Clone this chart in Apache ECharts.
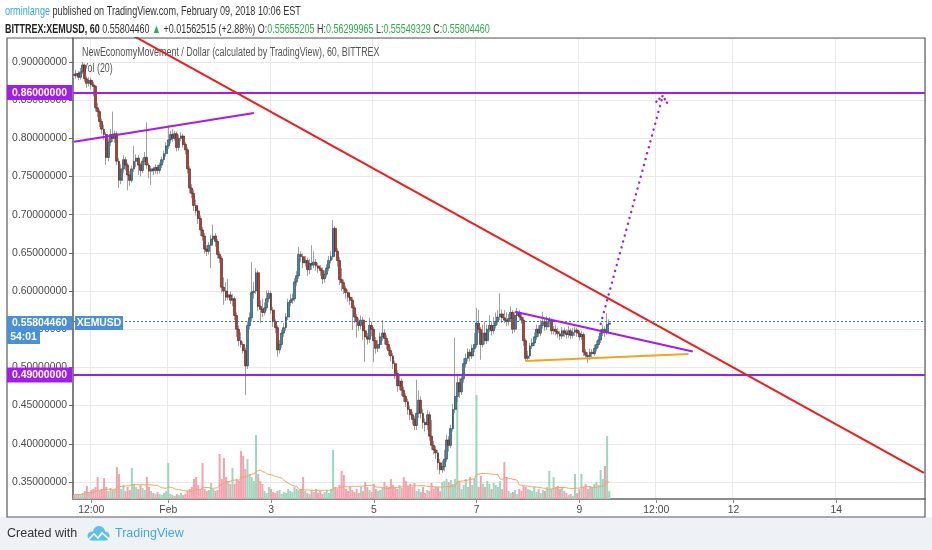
<!DOCTYPE html>
<html><head><meta charset="utf-8">
<script src="https://cdn.jsdelivr.net/npm/echarts@6/dist/echarts.min.js"></script>
<style>html,body{margin:0;padding:0;background:#fff}#c{width:932px;height:550px}</style>
</head><body><div id="c"></div>
<script>
// ---- axis definition ----
const firstHourUTC = [2018, 0, 30, 4];   // Jan 30 04:00 (first hourly slot)
const hourSlots = 398;                    // through Feb 15 17:00
const xTickTimes = ['2018-01-30 12:00','2018-02-01 00:00','2018-02-03 00:00','2018-02-05 00:00','2018-02-07 00:00','2018-02-09 00:00','2018-02-10 12:00','2018-02-12 00:00','2018-02-14 00:00'];
const xTickText  = ['12:00','Feb','3','5','7','9','12:00','12','14'];

// ---- hourly OHLC (XEM/USD) ----
const opens = [
0.884,0.882,0.885,0.880,0.887,0.896,0.878,0.872,0.876,0.870,
0.868,0.840,0.835,0.822,0.812,0.805,0.775,0.795,0.805,0.800,
0.806,0.770,0.745,0.760,0.772,0.765,0.752,0.745,0.760,0.770,
0.774,0.765,0.758,0.770,0.775,0.765,0.757,0.760,0.758,0.762,
0.758,0.765,0.772,0.780,0.790,0.798,0.805,0.800,0.806,0.788,
0.800,0.803,0.792,0.785,0.760,0.735,0.728,0.712,0.705,0.695,
0.680,0.672,0.655,0.652,0.660,0.668,0.672,0.665,0.648,0.643,
0.605,0.600,0.592,0.595,0.588,0.590,0.568,0.550,0.535,0.530,
0.522,0.502,0.555,0.565,0.598,0.600,0.624,0.580,0.576,0.572,
0.578,0.590,0.597,0.575,0.560,0.552,0.523,0.530,0.545,0.552,
0.566,0.585,0.588,0.590,0.612,0.620,0.648,0.645,0.637,0.640,
0.628,0.636,0.634,0.638,0.633,0.630,0.627,0.616,0.622,0.630,
0.640,0.645,0.682,0.652,0.640,0.615,0.611,0.603,0.598,0.592,
0.588,0.578,0.566,0.560,0.555,0.562,0.548,0.540,0.537,0.555,
0.550,0.535,0.525,0.530,0.540,0.545,0.538,0.530,0.522,0.515,
0.505,0.492,0.476,0.482,0.470,0.462,0.455,0.445,0.438,0.432,
0.424,0.440,0.457,0.440,0.428,0.425,0.438,0.410,0.398,0.392,
0.388,0.375,0.366,0.370,0.380,0.405,0.398,0.420,0.445,0.462,
0.480,0.468,0.485,0.505,0.512,0.520,0.515,0.525,0.530,0.558,
0.550,0.530,0.545,0.535,0.550,0.555,0.548,0.555,0.560,0.566,
0.570,0.565,0.562,0.560,0.564,0.572,0.550,0.568,0.572,0.566,
0.562,0.535,0.512,0.515,0.528,0.532,0.540,0.550,0.545,0.555,
0.560,0.553,0.560,0.562,0.548,0.550,0.547,0.544,0.541,0.548,
0.545,0.543,0.548,0.542,0.546,0.549,0.545,0.540,0.543,0.520,
0.516,0.514,0.520,0.518,0.525,0.530,0.536,0.545,0.550,0.546,
0.55655205];
const closes = [
0.882,0.885,0.880,0.887,0.896,0.878,0.872,0.876,0.870,0.868,
0.840,0.835,0.822,0.812,0.805,0.775,0.795,0.805,0.800,0.806,
0.770,0.745,0.760,0.772,0.765,0.752,0.745,0.760,0.770,0.774,
0.765,0.758,0.770,0.775,0.765,0.757,0.760,0.758,0.762,0.758,
0.765,0.772,0.780,0.790,0.798,0.805,0.800,0.806,0.788,0.800,
0.803,0.792,0.785,0.760,0.735,0.728,0.712,0.705,0.695,0.680,
0.672,0.655,0.652,0.660,0.668,0.672,0.665,0.648,0.643,0.605,
0.600,0.592,0.595,0.588,0.590,0.568,0.550,0.535,0.530,0.522,
0.502,0.555,0.565,0.598,0.600,0.624,0.580,0.576,0.572,0.578,
0.590,0.597,0.575,0.560,0.552,0.523,0.530,0.545,0.552,0.566,
0.585,0.588,0.590,0.612,0.620,0.648,0.645,0.637,0.640,0.628,
0.636,0.634,0.638,0.633,0.630,0.627,0.616,0.622,0.630,0.640,
0.645,0.682,0.652,0.640,0.615,0.611,0.603,0.598,0.592,0.588,
0.578,0.566,0.560,0.555,0.562,0.548,0.540,0.537,0.555,0.550,
0.535,0.525,0.530,0.540,0.545,0.538,0.530,0.522,0.515,0.505,
0.492,0.476,0.482,0.470,0.462,0.455,0.445,0.438,0.432,0.424,
0.440,0.457,0.440,0.428,0.425,0.438,0.410,0.398,0.392,0.388,
0.375,0.366,0.370,0.380,0.405,0.398,0.420,0.445,0.462,0.480,
0.468,0.485,0.505,0.512,0.520,0.515,0.525,0.530,0.558,0.550,
0.530,0.545,0.535,0.550,0.555,0.548,0.555,0.560,0.566,0.570,
0.565,0.562,0.560,0.564,0.572,0.550,0.568,0.572,0.566,0.562,
0.535,0.512,0.515,0.528,0.532,0.540,0.550,0.545,0.555,0.560,
0.553,0.560,0.562,0.548,0.550,0.547,0.544,0.541,0.548,0.545,
0.543,0.548,0.542,0.546,0.549,0.545,0.540,0.543,0.520,0.516,
0.514,0.520,0.518,0.525,0.530,0.536,0.545,0.550,0.546,0.55655205,
0.55804460];
const highs = [
0.889,0.890,0.888,0.892,0.900,0.898,0.881,0.880,0.879,0.874,
0.870,0.846,0.838,0.826,0.818,0.808,0.800,0.812,0.835,0.810,
0.809,0.774,0.766,0.778,0.776,0.768,0.757,0.764,0.790,0.779,
0.778,0.768,0.774,0.782,0.821,0.768,0.764,0.763,0.766,0.765,
0.768,0.776,0.784,0.795,0.817,0.810,0.812,0.810,0.809,0.805,
0.808,0.806,0.795,0.788,0.764,0.740,0.733,0.720,0.712,0.699,
0.684,0.676,0.660,0.664,0.674,0.687,0.676,0.668,0.652,0.646,
0.618,0.612,0.616,0.600,0.596,0.593,0.572,0.555,0.546,0.534,
0.526,0.560,0.572,0.638,0.612,0.630,0.627,0.588,0.590,0.585,
0.601,0.601,0.600,0.579,0.563,0.555,0.536,0.549,0.558,0.571,
0.590,0.596,0.597,0.617,0.626,0.658,0.652,0.649,0.646,0.644,
0.642,0.660,0.652,0.642,0.637,0.634,0.631,0.627,0.635,0.646,
0.652,0.693,0.685,0.656,0.644,0.630,0.615,0.607,0.602,0.597,
0.592,0.582,0.570,0.565,0.568,0.566,0.553,0.545,0.565,0.560,
0.553,0.540,0.536,0.546,0.562,0.550,0.542,0.535,0.526,0.519,
0.509,0.496,0.490,0.486,0.475,0.466,0.459,0.450,0.442,0.436,
0.484,0.470,0.462,0.446,0.433,0.444,0.442,0.431,0.404,0.397,
0.392,0.380,0.378,0.392,0.412,0.410,0.425,0.452,0.539,0.490,
0.486,0.492,0.512,0.518,0.525,0.524,0.530,0.545,0.578,0.575,
0.553,0.556,0.560,0.556,0.568,0.560,0.566,0.572,0.575,0.597,
0.576,0.575,0.572,0.570,0.580,0.575,0.573,0.578,0.575,0.570,
0.566,0.538,0.522,0.532,0.538,0.546,0.556,0.555,0.562,0.573,
0.565,0.567,0.566,0.564,0.554,0.556,0.552,0.548,0.553,0.552,
0.550,0.554,0.551,0.552,0.553,0.552,0.548,0.548,0.546,0.524,
0.520,0.525,0.524,0.530,0.535,0.541,0.550,0.556,0.554,0.571,
0.56299965];
const lows = [
0.879,0.878,0.876,0.877,0.884,0.874,0.866,0.868,0.864,0.855,
0.835,0.828,0.815,0.806,0.798,0.765,0.770,0.790,0.795,0.794,
0.765,0.735,0.740,0.755,0.758,0.732,0.738,0.742,0.756,0.762,
0.752,0.750,0.755,0.765,0.760,0.748,0.739,0.752,0.754,0.753,
0.754,0.761,0.768,0.776,0.786,0.793,0.795,0.797,0.783,0.784,
0.796,0.788,0.779,0.754,0.728,0.722,0.705,0.699,0.688,0.672,
0.666,0.649,0.646,0.648,0.630,0.662,0.658,0.643,0.637,0.598,
0.582,0.587,0.588,0.583,0.580,0.562,0.540,0.528,0.526,0.518,
0.464,0.498,0.550,0.560,0.590,0.596,0.574,0.558,0.566,0.568,
0.574,0.585,0.570,0.553,0.545,0.514,0.518,0.526,0.540,0.548,
0.562,0.580,0.583,0.586,0.607,0.616,0.638,0.630,0.632,0.620,
0.622,0.628,0.630,0.627,0.624,0.620,0.609,0.611,0.618,0.626,
0.636,0.641,0.646,0.632,0.608,0.600,0.596,0.590,0.586,0.582,
0.549,0.558,0.539,0.548,0.550,0.536,0.507,0.530,0.532,0.541,
0.507,0.518,0.520,0.526,0.535,0.530,0.524,0.516,0.508,0.498,
0.485,0.468,0.470,0.463,0.455,0.448,0.438,0.431,0.425,0.418,
0.418,0.434,0.433,0.420,0.416,0.418,0.404,0.392,0.386,0.380,
0.366,0.360,0.362,0.364,0.376,0.390,0.394,0.416,0.440,0.455,
0.460,0.464,0.480,0.500,0.508,0.508,0.511,0.520,0.526,0.545,
0.510,0.526,0.530,0.531,0.546,0.542,0.544,0.551,0.556,0.562,
0.558,0.558,0.554,0.555,0.560,0.544,0.546,0.563,0.561,0.557,
0.528,0.508,0.509,0.511,0.524,0.528,0.536,0.540,0.541,0.551,
0.548,0.549,0.553,0.543,0.543,0.542,0.539,0.536,0.537,0.540,
0.538,0.539,0.537,0.538,0.541,0.540,0.535,0.536,0.515,0.511,
0.506,0.510,0.513,0.515,0.521,0.526,0.532,0.541,0.540,0.543,
0.55549329];
// hourly volume (relative units)
const volumes = [
4,5,4,5,6,8,13,6,9,10,
12,22,9,10,21,12,8,11,9,10,
32,25,10,14,8,12,9,31,15,12,
10,14,11,9,22,12,8,6,5,7,
5,4,6,8,36,5,4,3,5,4,
6,4,5,8,10,12,20,22,14,10,
36,10,8,9,16,10,8,9,45,20,
41,22,18,15,31,15,20,18,48,43,
30,40,25,22,18,64,25,18,15,8,
6,12,10,7,6,8,9,5,7,6,
10,8,7,12,10,9,10,22,8,6,
5,9,7,10,6,8,5,7,9,6,
10,49,12,10,14,28,24,10,8,12,
9,7,10,6,12,8,17,12,9,7,
15,10,8,9,11,17,13,12,20,14,
12,10,14,11,22,18,13,15,12,16,
8,10,7,12,6,9,8,16,10,12,
12,8,17,18,20,17,19,15,20,103,
18,10,14,20,12,22,14,20,104,12,
23,15,12,18,15,10,16,14,12,18,
10,37,22,8,6,7,9,5,10,8,
13,12,10,9,8,12,7,10,6,9,
8,12,28,10,22,12,13,10,12,8,
6,4,5,3,25,6,10,25,12,15,
10,13,12,15,17,14,29,20,33,63,
8];
const volPeriod = 20;

// ---- drawings ----
const redTrend      = [['2018-01-30 04:00',0.9772],['2018-02-15 17:00',0.3618]];
const upperWedge    = [['2018-01-30 04:00',0.7955],['2018-02-02 16:00',0.8333]];
const wedgeTop      = [['2018-02-07 18:00',0.5730],['2018-02-11 05:00',0.5208]];
const wedgeBottom   = [['2018-02-07 23:00',0.5084],['2018-02-11 03:00',0.5176]];
const projection    = [['2018-02-09 10:00',0.557],['2018-02-10 15:00',0.8555]];
const projectionTip = [['2018-02-10 12:00',0.848],['2018-02-10 15:00',0.8555],['2018-02-10 17:00',0.8467]];
const levels = [0.86, 0.49];
const lastPrice = 0.55804460;
const countdown = '54:01';
const yMin = 0.3277, yMax = 0.9314;

// ---- build ----
const pad = n => String(n).padStart(2,'0');
const categories = [];
const t0 = Date.UTC(...firstHourUTC);
for (let k = 0; k < hourSlots; k++) {
  const d = new Date(t0 + k*3600000);
  categories.push(d.getUTCFullYear()+'-'+pad(d.getUTCMonth()+1)+'-'+pad(d.getUTCDate())+' '+pad(d.getUTCHours())+':00');
}
const tickMap = new Map(xTickTimes.map((t,j)=>[categories.indexOf(t), xTickText[j]]));
const isTick = idx => tickMap.has(idx);

const wickData = opens.map((o,i)=>[o, closes[i], lows[i], highs[i]]);
const bodyData = opens.map((o,i)=>[o, closes[i], Math.min(o,closes[i]), Math.max(o,closes[i])]);
const volMA = volumes.map((v,i)=>{ const s = volumes.slice(Math.max(0,i-volPeriod+1), i+1); return s.reduce((a,b)=>a+b,0)/s.length; });

const PURPLE = '#a21cf0', BLUE = '#4a8fdc';
const axisFont = 'Liberation Sans, Arial, sans-serif';

const chart = echarts.init(document.getElementById('c'));
const option = {
  animation: false,
  backgroundColor: '#ffffff',
  grid: { left: 73, right: 7, top: 38, bottom: 51, outerBoundsMode: 'none', containLabel: false },
  xAxis: [{
    type: 'category', data: categories, boundaryGap: true,
    axisLine: { show: true, lineStyle: { color: '#8c8c8c', width: 2 } },
    axisTick: { show: true, alignWithLabel: true, interval: isTick, length: 4, lineStyle: { color: '#8c8c8c' } },
    axisLabel: { interval: isTick, formatter: (v, idx) => tickMap.get(idx) || '', color: '#4a4a4a', fontSize: 10.4, fontFamily: axisFont, margin: 6 },
    splitLine: { show: true, interval: isTick, lineStyle: { color: '#e9e9eb', width: 1 } }
  }],
  yAxis: [{
    type: 'value', position: 'left', min: yMin, max: yMax, splitNumber: 12, scale: true,
    axisLine: { show: true, lineStyle: { color: '#555', width: 1.5 } },
    axisTick: { show: true, length: 4, lineStyle: { color: '#666' } },
    axisLabel: { formatter: v => v.toFixed(8), color: '#4a4a4a', fontSize: 10.4, fontFamily: axisFont, margin: 6, showMinLabel: false, showMaxLabel: false },
    splitLine: { show: true, lineStyle: { color: '#e9e9eb', width: 1.2 } }
  }, {
    type: 'value', min: 0, max: 461, show: false, splitLine: { show: false }
  }],
  series: [
    { name: 'Volume', type: 'bar', yAxisIndex: 1, data: volumes, barWidth: 2, silent: true, z: 1,
      itemStyle: { color: p => closes[p.dataIndex] >= opens[p.dataIndex] ? '#9fd6bd' : '#f4a2ae' } },
    { name: 'Vol MA', type: 'line', yAxisIndex: 1, data: volMA, symbol: 'none', silent: true, z: 1,
      lineStyle: { color: '#f6a35e', width: 1 } },
    { name: 'wicks', type: 'candlestick', data: wickData, barWidth: 1, silent: true, z: 2,
      itemStyle: { color: '#a0a0a0', color0: '#a0a0a0', borderColor: '#a0a0a0', borderColor0: '#a0a0a0', borderWidth: 1 } },
    { name: 'XEMUSD', type: 'candlestick', data: bodyData, barWidth: 2.4, silent: true, z: 3,
      itemStyle: { color: '#3f86ab', color0: '#b93b2e', borderColor: '#22404c', borderColor0: '#521c14', borderWidth: 0.6 },
      markLine: { silent: true, symbol: 'none', label: { show: false }, animation: false,
        data: [
          ...levels.map(v => ({ yAxis: v, lineStyle: { color: PURPLE, width: 2, type: 'solid' } })),
          { yAxis: lastPrice, lineStyle: { color: '#3573bd', width: 1, type: [2, 2] } }
        ] } },
    { type: 'line', data: redTrend, symbol: 'none', silent: true, clip: true, z: 5, lineStyle: { color: '#ee1c1c', width: 2 } },
    { type: 'line', data: upperWedge, symbol: 'none', silent: true, clip: true, z: 5, lineStyle: { color: PURPLE, width: 2 } },
    { type: 'line', data: wedgeTop, symbol: 'none', silent: true, clip: true, z: 5, lineStyle: { color: PURPLE, width: 2 } },
    { type: 'line', data: wedgeBottom, symbol: 'none', silent: true, clip: true, z: 5, lineStyle: { color: '#f7a21b', width: 2 } },
    { type: 'line', data: projection, symbol: 'none', silent: true, clip: true, z: 5, lineStyle: { color: PURPLE, width: 2.4, type: [0.1, 6], cap: 'round' } },
    { type: 'line', data: projectionTip, symbol: 'none', silent: true, clip: true, z: 5, lineStyle: { color: PURPLE, width: 2.4, type: [0.1, 4], cap: 'round' } }
  ]
};
chart.setOption(option);

const yPx = v => chart.convertToPixel({ yAxisIndex: 0 }, v);
function tag(x, yc, w, h, fill, text, font) {
  return { type: 'group', z: 100, children: [
    { type: 'rect', z: 100, shape: { x: x, y: yc - h/2, width: w, height: h }, style: { fill: fill } },
    { type: 'text', z: 101, style: { x: x + w/2, y: yc + 0.5, text: text, fill: '#fff', font: font, align: 'center', verticalAlign: 'middle' } }
  ] };
}
function label(x, y, sx, z, style) { return { type: 'text', x: x, y: y, scaleX: sx, z: z, style: Object.assign({ verticalAlign: 'middle' }, style) }; }
const tagFont = 'bold 10.4px ' + axisFont;
const yl = yPx(lastPrice);
const hf = '13px ' + axisFont;
const tf = '12.5px ' + axisFont;
const graphics = [
  { type: 'rect', z: -1, shape: { x: 0, y: 517, width: 932, height: 33 }, style: { fill: '#eef1f6' } },
  { type: 'rect', z: 50, shape: { x: 7, y: 38, width: 918, height: 479 }, style: { fill: 'none', stroke: '#5a5a5a', lineWidth: 1.2 } },
  label(5, 11, 0.70, 10, { font: hf, fill: '#333',
      text: '{u|orminlange} published on TradingView.com, February 09, 2018 10:06 EST', rich: { u: { fill: '#3aa3e0', font: hf } } }),
  label(5, 29, 0.69, 10, { font: hf, fill: '#333',
      text: '{b|BITTREX:XEMUSD, 60} 0.55804460 {g|▲} +0.01562515 (+2.88%) O:{g|0.55655205} H:{g|0.56299965} L:{g|0.55549329} C:{g|0.55804460}',
      rich: { b: { fill: '#222', font: 'bold ' + hf }, g: { fill: '#2fae4a', font: hf } } }),
  label(82, 53, 0.715, 0, { font: tf, fill: '#555', text: 'NewEconomyMovement / Dollar (calculated by TradingView), 60, BITTREX' }),
  label(82, 69, 0.715, 0, { font: tf, fill: '#555', text: 'Vol (20)' }),
  ...levels.map(v => tag(7, yPx(v), 65, 15, PURPLE, v.toFixed(8), tagFont)),
  tag(7, yl, 65, 14, BLUE, lastPrice.toFixed(8), tagFont),
  tag(7, yl + 14, 33, 14, BLUE, countdown, tagFont),
  tag(75, yl, 48, 14, BLUE, 'XEMUSD', tagFont),
  { type: 'text', z: 10, style: { x: 7, y: 534, verticalAlign: 'middle', font: '12.5px ' + axisFont, fill: '#333', text: 'Created with' } },
  { type: 'circle', z: 10, shape: { cx: 92, cy: 536, r: 4.5 }, style: { fill: '#5cc0ea' } },
  { type: 'circle', z: 10, shape: { cx: 99, cy: 532, r: 6 }, style: { fill: '#5cc0ea' } },
  { type: 'circle', z: 10, shape: { cx: 105, cy: 536, r: 4.5 }, style: { fill: '#5cc0ea' } },
  { type: 'rect', z: 10, shape: { x: 92, y: 535, width: 13, height: 5.5 }, style: { fill: '#5cc0ea' } },
  { type: 'polyline', z: 11, shape: { points: [[88,540],[94,534],[98,538],[102,533],[109,539]] }, style: { stroke: '#fff', lineWidth: 1.6, fill: 'none' } },
  { type: 'text', z: 10, style: { x: 115, y: 534, verticalAlign: 'middle', font: '12.5px ' + axisFont, fill: '#3fa9e2', text: 'TradingView' } }
];
chart.setOption({ graphic: graphics });
</script>
</body></html>
